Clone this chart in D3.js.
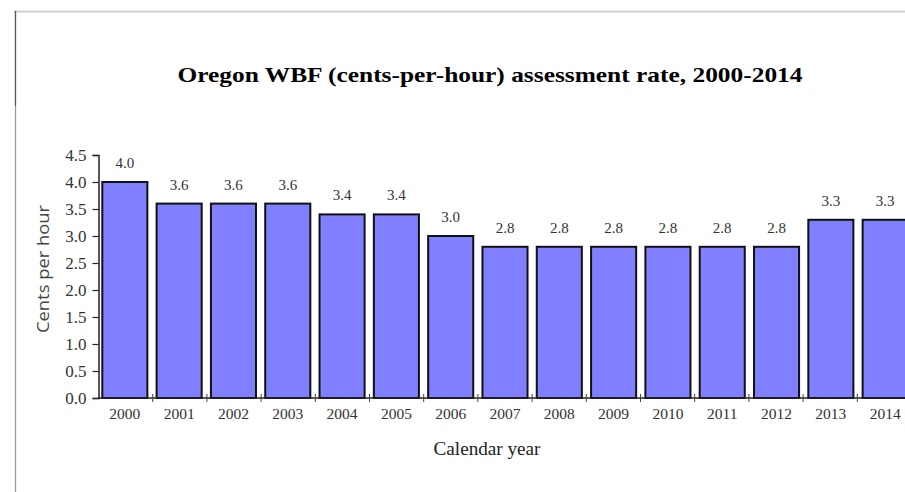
<!DOCTYPE html>
<html><head><meta charset="utf-8">
<script src="https://cdn.jsdelivr.net/npm/d3@7"></script>
<style>
html,body{margin:0;padding:0;background:#fff;overflow:hidden}
svg{display:block}
</style></head>
<body>
<script>
const years = ["2000","2001","2002","2003","2004","2005","2006","2007","2008","2009","2010","2011","2012","2013","2014"];
const values = [4.0,3.6,3.6,3.6,3.4,3.4,3.0,2.8,2.8,2.8,2.8,2.8,2.8,3.3,3.3];
const yTicks = [0,0.5,1.0,1.5,2.0,2.5,3.0,3.5,4.0,4.5];
const title = "Oregon WBF (cents-per-hour) assessment rate, 2000-2014";
const xTitle = "Calendar year";
const yTitle = "Cents per hour";

const W = 905, H = 492;
const svg = d3.select("body").append("svg").attr("width", W).attr("height", H);

// frame lines
svg.append("line").attr("x1",14).attr("x2",W).attr("y1",11.5).attr("y2",11.5).attr("stroke","#cfcfcf").attr("stroke-width",2);
svg.append("line").attr("x1",15.5).attr("x2",15.5).attr("y1",11).attr("y2",106).attr("stroke","#555").attr("stroke-width",1.3);
svg.append("line").attr("x1",15.5).attr("x2",15.5).attr("y1",106).attr("y2",H).attr("stroke","#9a9a9a").attr("stroke-width",1.3);

const x0 = 98.5, step = 54.2;
const x = d3.scaleBand().domain(years).range([x0, x0 + step*years.length]).paddingInner(0.17).paddingOuter(0.07);
const y = d3.scaleLinear().domain([0,4.5]).range([398,155]);

svg.append("text").attr("x",490).attr("y",82).attr("text-anchor","middle")
  .attr("font-family","Liberation Serif, serif").attr("font-weight","bold").attr("font-size",22)
  .attr("textLength",625).attr("lengthAdjust","spacingAndGlyphs").text(title);

// bars
svg.selectAll("rect.bar").data(values).enter().append("rect")
  .attr("x",(d,i)=>x(years[i])).attr("width",x.bandwidth())
  .attr("y",d=>y(d)).attr("height",d=>y(0)-y(d))
  .attr("fill","#7f7fff").attr("stroke","#111").attr("stroke-width",2);

// value labels
svg.selectAll("text.val").data(values).enter().append("text")
  .attr("x",(d,i)=>x(years[i])+x.bandwidth()/2).attr("y",d=>y(d)-14)
  .attr("text-anchor","middle").attr("font-family","Liberation Serif, serif").attr("font-size",15)
  .attr("fill","#333").text(d=>d.toFixed(1));

// y axis
const yAxis = svg.append("g").attr("transform",`translate(${x0},0)`)
  .call(d3.axisLeft(y).tickValues(yTicks).tickFormat(d3.format(".1f")).tickSize(6).tickPadding(6));
yAxis.select(".domain").attr("stroke","#222").attr("stroke-width",1.5);
yAxis.selectAll(".tick line").attr("stroke","#222").attr("stroke-width",1.2);
yAxis.selectAll("text").attr("font-family","Liberation Serif, serif").attr("font-size",17).attr("fill","#333");

// x axis
const xAxisG = svg.append("g").attr("transform",`translate(0,${y(0)})`);
xAxisG.append("line").attr("x1",x0).attr("x2",W).attr("y1",0).attr("y2",0).attr("stroke","#222").attr("stroke-width",1.5);
const bounds = years.map((d,i)=>x0 + step*(i+1));
xAxisG.selectAll("line.t").data(bounds).enter().append("line")
  .attr("x1",d=>d).attr("x2",d=>d).attr("y1",-4).attr("y2",4).attr("stroke","#444").attr("stroke-width",1);
xAxisG.selectAll("text.xl").data(years).enter().append("text")
  .attr("x",d=>x(d)+x.bandwidth()/2).attr("y",21).attr("text-anchor","middle")
  .attr("font-family","Liberation Serif, serif").attr("font-size",15.5).attr("fill","#333").text(d=>d);

svg.append("text").attr("x",487).attr("y",455).attr("text-anchor","middle")
  .attr("font-family","Liberation Serif, serif").attr("font-size",18).attr("fill","#222")
  .attr("textLength",107).attr("lengthAdjust","spacingAndGlyphs").text(xTitle);

svg.append("text").attr("transform","translate(49,269) rotate(-90)").attr("text-anchor","middle")
  .attr("font-family","Open Sans, sans-serif").attr("font-size",16).attr("fill","#444")
  .attr("textLength",128).attr("lengthAdjust","spacingAndGlyphs").text(yTitle);
</script>
</body></html>
